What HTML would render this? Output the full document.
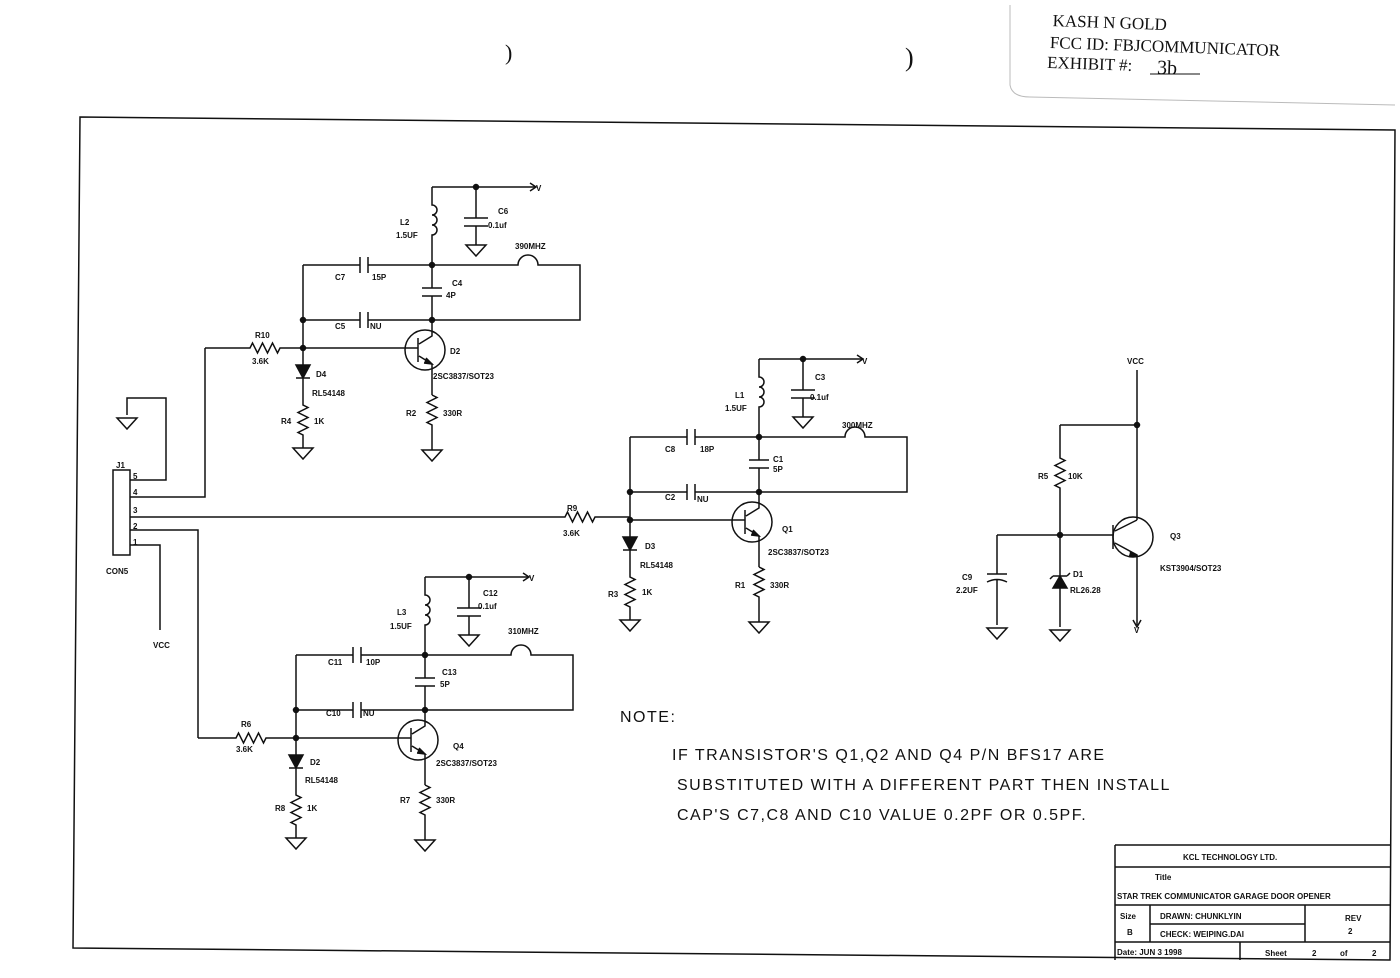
<!DOCTYPE html>
<html><head><meta charset="utf-8"><style>
html,body{margin:0;padding:0;background:#fff;}
svg{display:block;}
text{font-family:"Liberation Sans",sans-serif;font-size:8px;font-weight:bold;fill:#111;}
.n{font-size:16px;font-weight:normal;letter-spacing:1.5px;}
.h{font-family:"Liberation Serif",serif;font-size:17px;font-weight:normal;}
</style></head><body>
<svg width="1400" height="978" viewBox="0 0 1400 978" xmlns="http://www.w3.org/2000/svg">
<defs>
<g id="gnd"><path d="M-10 0 H10 L0 11 Z" fill="none" stroke="#111" stroke-width="1.5"/></g>
<g id="cell" fill="none" stroke="#111" stroke-width="1.5">
  <path d="M432 187 H535"/><path d="M530 183 L536 187 L530 191"/>
  <circle cx="476" cy="187" r="2.5" fill="#111"/>
  <path d="M432 187 V205 a5 5 0 0 1 0 10 a5 5 0 0 1 0 10 a5 5 0 0 1 0 10 V265"/>
  <path d="M476 187 V218 M464 218 H488 M464 226 H488 M476 226 V245"/>
  <use href="#gnd" x="476" y="245"/>
  <path d="M303 265 H360 M360 257 V273 M368 257 V273 M368 265 H518 a10 10 0 0 1 20 0 H580 V320 H368 M368 312 V328 M360 312 V328 M360 320 H303 V348 M303 265 V320"/>
  <circle cx="432" cy="265" r="2.5" fill="#111"/><circle cx="432" cy="320" r="2.5" fill="#111"/>
  <circle cx="303" cy="320" r="2.5" fill="#111"/><circle cx="303" cy="348" r="2.5" fill="#111"/>
  <path d="M432 265 V288 M422 288 H442 M422 296 H442 M432 296 V320"/>
  <circle cx="425" cy="350" r="20"/>
  <path d="M432 320 V336 L419 344 M418 338 V362 M303 348 H418 M419 356 L432 364 V395"/>
  <path d="M426 358 L432 364 L424 363" fill="#111"/>
  <path d="M432 395 l5 2.5 l-10 5 l10 5 l-10 5 l10 5 l-10 5 l5 2.5 V450"/>
  <use href="#gnd" x="432" y="450"/>
  <path d="M303 348 V365"/><path d="M296 365 H310 L303 378 Z" fill="#111"/>
  <path d="M296 378 H310 M303 378 V405 l5 2.5 l-10 5 l10 5 l-10 5 l10 5 l-10 5 l5 2.5 V448"/>
  <use href="#gnd" x="303" y="448"/>
</g>
</defs>
<polygon points="80,117 1395,130 1390,960 73,948" fill="none" stroke="#111" stroke-width="1.5"/>
<path d="M1010 5 V85 Q1012 97 1030 97 L1395 105" fill="none" stroke="#bbb" stroke-width="1"/>
<g transform="rotate(2 1050 40)">
<text class="h" x="1052" y="26">KASH N GOLD</text>
<text class="h" x="1050" y="48">FCC ID:  FBJCOMMUNICATOR</text>
<text class="h" x="1048" y="68">EXHIBIT #:</text>
<text class="h" x="1158" y="70" style="font-size:20px">3b</text>
</g>
<path d="M1150 74 H1200" stroke="#111"/>
<text class="h" x="505" y="60" style="font-size:22px">)</text>
<text class="h" x="905" y="66" style="font-size:26px">)</text>

<use href="#cell"/>
<use href="#cell" transform="translate(327,172)"/>
<use href="#cell" transform="translate(-7,390)"/>

<g fill="none" stroke="#111" stroke-width="1.5">
  <path d="M205 348 H250 l2.5 -5 l5 10 l5 -10 l5 10 l5 -10 l5 10 l2.5 -5 H303"/>
  <path d="M205 348 V497 H130"/>
  <path d="M130 517 H565 l2.5 -5 l5 10 l5 -10 l5 10 l5 -10 l5 10 l2.5 -5 H630"/>
  <path d="M198 738 H236 l2.5 -5 l5 10 l5 -10 l5 10 l5 -10 l5 10 l2.5 -5 H296"/>
  <path d="M198 738 V530 H130"/>
  <rect x="113" y="470" width="17" height="85"/>
  <path d="M130 480 H166 V398 H127 V415"/>
  <use href="#gnd" x="127" y="418"/>
  <path d="M130 545 H160 V630"/>
  <path d="M1137 370 V520 M1060 425 H1137 M1060 425 V458 l5 2.5 l-10 5 l10 5 l-10 5 l10 5 l-10 5 l5 2.5 V535"/>
  <path d="M997 535 H1113 M1113 525 V549 M1115 531 L1137 520"/>
  <circle cx="1133" cy="537" r="20"/>
  <path d="M1115 543 L1137 555 V625"/><path d="M1130 552 L1137 556 L1129 556" fill="#111"/>
  <path d="M1133 620 L1137 627 L1141 620"/>
  <circle cx="1137" cy="425" r="2.5" fill="#111"/><circle cx="1060" cy="535" r="2.5" fill="#111"/>
  <path d="M997 535 V574 M987 574 H1007 M987 582 Q997 577 1007 582 M997 580 V625"/>
  <use href="#gnd" x="997" y="628"/>
  <path d="M1060 535 V576"/><path d="M1053 588 H1067 L1060 576 Z" fill="#111"/>
  <path d="M1053 576 H1067 M1053 576 l-3 3 M1067 576 l3 -3 M1060 588 V627"/>
  <use href="#gnd" x="1060" y="630"/>
  <path d="M1115 845 H1390 M1115 845 V960 M1115 867 H1390 M1115 905 H1390 M1115 942 H1390 M1150 905 V942 M1150 924 H1305 M1305 905 V942 M1240 942 V960"/>
</g>

<text x="400" y="225">L2</text><text x="396" y="238">1.5UF</text>
<text x="498" y="214">C6</text><text x="488" y="228">0.1uf</text>
<text x="515" y="249">390MHZ</text>
<text x="335" y="280">C7</text><text x="372" y="280">15P</text>
<text x="452" y="286">C4</text><text x="446" y="298">4P</text>
<text x="335" y="329">C5</text><text x="370" y="329">NU</text>
<text x="255" y="338">R10</text><text x="252" y="364">3.6K</text>
<text x="450" y="354">D2</text><text x="433" y="379">2SC3837/SOT23</text>
<text x="316" y="377">D4</text><text x="312" y="396">RL54148</text>
<text x="281" y="424">R4</text><text x="314" y="424">1K</text>
<text x="406" y="416">R2</text><text x="443" y="416">330R</text>
<text x="735" y="398">L1</text><text x="725" y="411">1.5UF</text>
<text x="815" y="380">C3</text><text x="810" y="400">0.1uf</text>
<text x="842" y="428">300MHZ</text>
<text x="665" y="452">C8</text><text x="700" y="452">18P</text>
<text x="773" y="462">C1</text><text x="773" y="472">5P</text>
<text x="665" y="500">C2</text><text x="697" y="502">NU</text>
<text x="567" y="511">R9</text><text x="563" y="536">3.6K</text>
<text x="782" y="532">Q1</text><text x="768" y="555">2SC3837/SOT23</text>
<text x="645" y="549">D3</text><text x="640" y="568">RL54148</text>
<text x="608" y="597">R3</text><text x="642" y="595">1K</text>
<text x="735" y="588">R1</text><text x="770" y="588">330R</text>
<text x="397" y="615">L3</text><text x="390" y="629">1.5UF</text>
<text x="483" y="596">C12</text><text x="478" y="609">0.1uf</text>
<text x="508" y="634">310MHZ</text>
<text x="328" y="665">C11</text><text x="366" y="665">10P</text>
<text x="442" y="675">C13</text><text x="440" y="687">5P</text>
<text x="326" y="716">C10</text><text x="363" y="716">NU</text>
<text x="241" y="727">R6</text><text x="236" y="752">3.6K</text>
<text x="453" y="749">Q4</text><text x="436" y="766">2SC3837/SOT23</text>
<text x="310" y="765">D2</text><text x="305" y="783">RL54148</text>
<text x="275" y="811">R8</text><text x="307" y="811">1K</text>
<text x="400" y="803">R7</text><text x="436" y="803">330R</text>
<text x="116" y="468">J1</text>
<text x="133" y="479">5</text><text x="133" y="495">4</text><text x="133" y="513">3</text><text x="133" y="529">2</text><text x="133" y="545">1</text>
<text x="106" y="574">CON5</text>
<text x="153" y="648">VCC</text>
<text x="1127" y="364">VCC</text>
<text x="1038" y="479">R5</text><text x="1068" y="479">10K</text>
<text x="1170" y="539">Q3</text><text x="1160" y="571">KST3904/SOT23</text>
<text x="962" y="580">C9</text><text x="956" y="593">2.2UF</text>
<text x="1073" y="577">D1</text><text x="1070" y="593">RL26.28</text>
<text x="1134" y="633">V</text>
<text x="536" y="191">V</text><text x="862" y="364">V</text><text x="529" y="581">V</text>
<text class="n" x="620" y="722">NOTE:</text>
<text class="n" x="672" y="760">IF TRANSISTOR'S Q1,Q2 AND Q4 P/N BFS17 ARE</text>
<text class="n" x="677" y="790">SUBSTITUTED WITH A DIFFERENT PART THEN INSTALL</text>
<text class="n" x="677" y="820">CAP'S C7,C8 AND C10 VALUE 0.2PF OR 0.5PF.</text>
<text x="1183" y="860">KCL TECHNOLOGY LTD.</text>
<text x="1155" y="880">Title</text>
<text x="1117" y="899">STAR TREK COMMUNICATOR GARAGE DOOR OPENER</text>
<text x="1120" y="919">Size</text><text x="1127" y="935">B</text>
<text x="1160" y="919">DRAWN: CHUNKLYIN</text>
<text x="1160" y="937">CHECK: WEIPING.DAI</text>
<text x="1345" y="921">REV</text><text x="1348" y="934">2</text>
<text x="1117" y="955">Date:  JUN 3 1998</text>
<text x="1265" y="956">Sheet</text><text x="1312" y="956">2</text><text x="1340" y="956">of</text><text x="1372" y="956">2</text>
</svg>
</body></html>
